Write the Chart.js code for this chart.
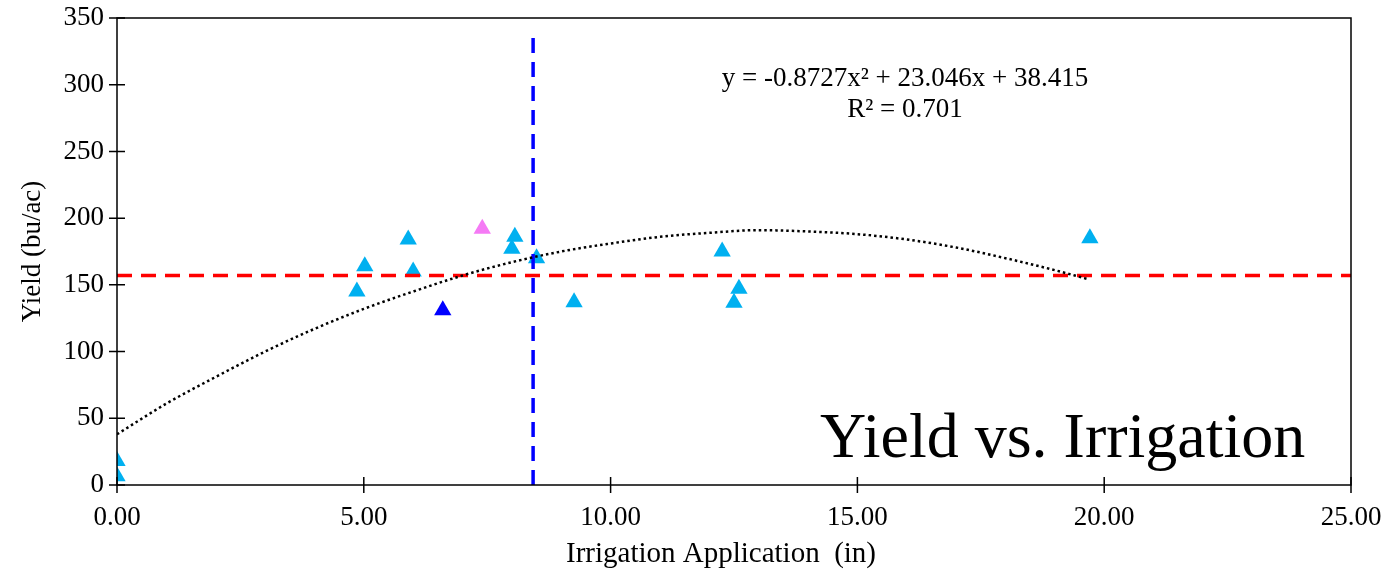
<!DOCTYPE html>
<html>
<head>
<meta charset="utf-8">
<script src="https://cdn.jsdelivr.net/npm/chart.js@4.4.1/dist/chart.umd.min.js"></script>
<style>
  html, body { margin: 0; padding: 0; background: #fff; }
  #wrap { width: 1394px; height: 573px; }
</style>
</head>
<body>
<div id="wrap"><canvas id="chart" width="1394" height="573"></canvas></div>
<script>
// observed plots
const irrigation = [0, 0, 4.86, 5.02, 5.9, 6.0, 8.06, 8.0, 8.5, 9.26, 12.26, 12.6, 12.5, 19.71];
const yieldBuAc = [18, 6.5, 145, 164, 184, 160, 186, 177, 170, 137, 175, 147, 136.5, 185];

// highlighted plots
const pinkPlot = { x: 7.4, y: 192 };
const darkPlot = { x: 6.6, y: 131 };

// polynomial trend line
const trendX = [0, 1, 2, 3, 4, 5, 6, 7, 8, 9, 10, 11, 12, 13, 14, 15, 16, 17, 18, 19, 19.7];
const trendY = [38, 61, 81, 100, 117, 132, 145, 157, 167, 175, 181, 186, 189, 191, 190, 188, 184, 178, 170, 161, 154];

// reference lines
const avgYield = 157;
const avgIrrigation = 8.43;
const vLineTop = 340;

const xTicks = [0, 5, 10, 15, 20, 25];
const yTicks = [0, 50, 100, 150, 200, 250, 300, 350];

const xTitle = 'Irrigation Application  (in)';
const equationText = 'y = -0.8727x² + 23.046x + 38.415';
const r2Text = 'R² = 0.701';
const bigTitle = 'Yield vs. Irrigation';

const SERIF = "'Liberation Serif', 'Times New Roman', serif";

const toPoints = (xs, ys) => xs.map((x, i) => ({ x, y: ys[i] }));

// frame, crossing ticks and text
const decorations = {
  id: 'decorations',
  afterDatasetsDraw(chart) {
    const { ctx, chartArea: a, scales } = chart;
    ctx.save();
    ctx.strokeStyle = '#000';
    ctx.lineWidth = 1.5;
    ctx.strokeRect(a.left, a.top, a.right - a.left, a.bottom - a.top);
    ctx.beginPath();
    yTicks.forEach(v => {
      const y = scales.y.getPixelForValue(v);
      ctx.moveTo(a.left - 8, y);
      ctx.lineTo(a.left + 8, y);
    });
    xTicks.forEach(v => {
      const x = scales.x.getPixelForValue(v);
      ctx.moveTo(x, a.bottom - 8);
      ctx.lineTo(x, a.bottom + 8);
    });
    ctx.stroke();

    ctx.fillStyle = '#000';
    ctx.textAlign = 'center';
    ctx.textBaseline = 'alphabetic';
    ctx.font = '27px ' + SERIF;
    ctx.fillText(equationText, 905, 86);
    ctx.fillText(r2Text, 905, 117);

    ctx.font = '29px ' + SERIF;
    ctx.fillText(xTitle, 721, 562);

    ctx.textAlign = 'left';
    ctx.font = '64px ' + SERIF;
    ctx.fillText(bigTitle, 820, 457);
    ctx.restore();
  }
};

new Chart(document.getElementById('chart'), {
  type: 'scatter',
  data: {
    datasets: [
      {
        type: 'line',
        data: toPoints(trendX, trendY),
        borderColor: '#000',
        borderWidth: 2.5,
        borderDash: [2.5, 3],
        pointRadius: 0,
        cubicInterpolationMode: 'monotone',
        fill: false
      },
      {
        type: 'line',
        data: [{ x: 0, y: avgYield }, { x: 25, y: avgYield }],
        borderColor: '#ff0000',
        borderWidth: 3.5,
        borderDash: [15, 9],
        pointRadius: 0
      },
      {
        type: 'line',
        data: [{ x: avgIrrigation, y: 0 }, { x: avgIrrigation, y: vLineTop }],
        borderColor: '#0000ff',
        borderWidth: 3.5,
        borderDash: [15, 9],
        pointRadius: 0
      },
      {
        data: [pinkPlot],
        pointStyle: 'triangle',
        pointRadius: 10,
        backgroundColor: '#f57af5',
        borderWidth: 0
      },
      {
        data: [darkPlot],
        pointStyle: 'triangle',
        pointRadius: 10,
        backgroundColor: '#0000ff',
        borderWidth: 0
      },
      {
        data: toPoints(irrigation, yieldBuAc),
        pointStyle: 'triangle',
        pointRadius: 10,
        backgroundColor: '#00b0f0',
        borderWidth: 0
      }
    ]
  },
  options: {
    animation: false,
    responsive: false,
    layout: { padding: { top: 18, right: 43, left: 0, bottom: 0 } },
    plugins: {
      legend: { display: false },
      tooltip: { enabled: false }
    },
    scales: {
      x: {
        type: 'linear',
        min: 0,
        max: 25,
        afterFit: s => { s.height = 88; s.paddingLeft = 0; s.paddingRight = 0; },
        afterBuildTicks: s => { s.ticks = xTicks.map(v => ({ value: v })); },
        grid: { display: false, drawTicks: false },
        border: { display: false },
        ticks: {
          padding: 17,
          color: '#000',
          font: { family: SERIF, size: 27 },
          callback: v => Number(v).toFixed(2)
        }
      },
      y: {
        type: 'linear',
        min: 0,
        max: 350,
        afterFit: s => { s.width = 117; s.paddingTop = 0; s.paddingBottom = 0; },
        afterBuildTicks: s => { s.ticks = yTicks.map(v => ({ value: v })); },
        grid: { display: false, drawTicks: false },
        border: { display: false },
        ticks: {
          padding: 13,
          color: '#000',
          font: { family: SERIF, size: 27 }
        },
        title: {
          display: true,
          text: 'Yield (bu/ac)',
          color: '#000',
          font: { family: SERIF, size: 27 },
          padding: { top: 17, bottom: 0 }
        }
      }
    }
  },
  plugins: [decorations]
});
</script>
</body>
</html>
